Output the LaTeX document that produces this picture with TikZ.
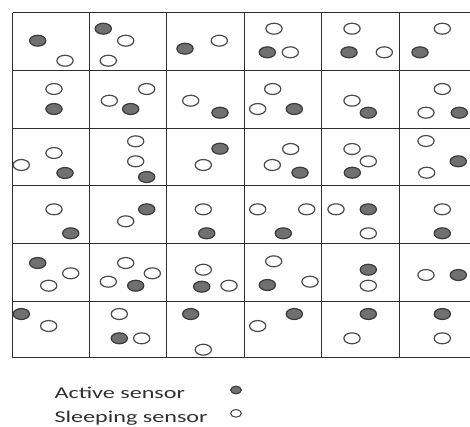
\documentclass[tikz,border=0pt]{standalone}
\usepackage{fontspec}
\setmainfont{Carlito}
\usetikzlibrary{shapes.geometric}
\definecolor{gridc}{HTML}{2E2E2E}
\definecolor{actfill}{HTML}{707070}
\definecolor{actline}{HTML}{3A3A3A}
\definecolor{slpline}{HTML}{4A4A4A}
\definecolor{txtc}{HTML}{303030}
\tikzset{
  gridline/.style={draw=gridc, line width=1.1pt},
  sensor/.style={ellipse, minimum width=12.2pt, minimum height=8.2pt, inner sep=0pt, line width=0.9pt},
  act/.style={sensor, draw=actline, fill=actfill},
  slp/.style={sensor, draw=slpline, fill=white},
  legsensor/.style={ellipse, minimum width=8pt, minimum height=5.8pt, inner sep=0pt, line width=0.8pt},
  legact/.style={legsensor, draw=actline, fill=actfill},
  legslp/.style={legsensor, draw=slpline, fill=white},
  legtext/.style={anchor=base west, inner sep=0pt, text=txtc, font=\fontsize{12.4}{14}\selectfont}
}
\begin{document}
\begin{tikzpicture}[x=0.75pt,y=-0.75pt]
\useasboundingbox (0,0) rectangle (470,426);
% grid
\foreach \yy in {12.7,70.7,128.3,185.3,243.3,301.3,357.7}
  \draw[gridline] (12.5,\yy) -- (470,\yy);
\foreach \xx in {12.5,89.5,166.7,244.3,321.7,399.3}
  \draw[gridline] (\xx,12.7) -- (\xx,357.7);
% row 1
\node[act] (a11) at (37.7,40.7) {};
\node[slp] (s11) at (65,60.7) {};
\node[act] (a12) at (103.3,28.7) {};
\node[slp] (s12a) at (125.7,40.7) {};
\node[slp] (s12b) at (108.3,60.7) {};
\node[act] (a13) at (185,48.7) {};
\node[slp] (s13) at (219.3,40.7) {};
\node[slp] (s14a) at (274,28.7) {};
\node[act] (a14) at (267.3,52.3) {};
\node[slp] (s14b) at (290.3,52.3) {};
\node[slp] (s15a) at (352,28.7) {};
\node[act] (a15) at (349,52.3) {};
\node[slp] (s15b) at (384.3,52.3) {};
\node[slp] (s16) at (442.3,28.7) {};
\node[act] (a16) at (420,52.3) {};
% row 2
\node[slp] (s21) at (54,89) {};
\node[act] (a21) at (54,109) {};
\node[slp] (s22a) at (146.7,89) {};
\node[slp] (s22b) at (109.3,100.7) {};
\node[act] (a22) at (130.7,109) {};
\node[slp] (s23) at (190.7,100.7) {};
\node[act] (a23) at (220,112.7) {};
\node[slp] (s24a) at (272.7,89) {};
\node[slp] (s24b) at (257.7,109) {};
\node[act] (a24) at (294.3,109) {};
\node[slp] (s25) at (352,100.7) {};
\node[act] (a25) at (368.3,112.7) {};
\node[slp] (s26a) at (442.3,89) {};
\node[slp] (s26b) at (426,112.7) {};
\node[act] (a26) at (459.3,112.7) {};
% row 3
\node[slp] (s31a) at (54,153) {};
\node[slp] (s31b) at (21.3,165) {};
\node[act] (a31) at (65,173) {};
\node[slp] (s32a) at (135.7,141.3) {};
\node[slp] (s32b) at (135.7,161.3) {};
\node[act] (a32) at (146.7,177) {};
\node[act] (a33) at (220,148.7) {};
\node[slp] (s33) at (203.3,165) {};
\node[slp] (s34a) at (290.7,149) {};
\node[slp] (s34b) at (272.3,165) {};
\node[act] (a34) at (300,172.7) {};
\node[slp] (s35a) at (352,149) {};
\node[slp] (s35b) at (368.3,161.3) {};
\node[act] (a35) at (352.3,172.7) {};
\node[slp] (s36a) at (426,141) {};
\node[act] (a36) at (458.3,161.3) {};
\node[slp] (s36b) at (426.7,172.7) {};
% row 4
\node[slp] (s41) at (54,209.3) {};
\node[act] (a41) at (70.7,233.3) {};
\node[act] (a42) at (146.7,209.3) {};
\node[slp] (s42) at (125.7,221.3) {};
\node[slp] (s43) at (203.3,209.3) {};
\node[act] (a43) at (206.7,233.3) {};
\node[slp] (s44a) at (257.7,209.3) {};
\node[slp] (s44b) at (306.7,209.3) {};
\node[act] (a44) at (283.3,233.3) {};
\node[slp] (s45a) at (336,209.3) {};
\node[act] (a45) at (368.3,209.3) {};
\node[slp] (s45b) at (368.3,233.3) {};
\node[slp] (s46) at (442.3,209.3) {};
\node[act] (a46) at (442.3,233.3) {};
% row 5
\node[act] (a51) at (37.7,263) {};
\node[slp] (s51a) at (70.7,273.3) {};
\node[slp] (s51b) at (48.7,285.7) {};
\node[slp] (s52a) at (125.7,263) {};
\node[slp] (s52b) at (152.3,273.3) {};
\node[slp] (s52c) at (108.3,281.7) {};
\node[act] (a52) at (135.7,285.7) {};
\node[slp] (s53a) at (203.3,269.7) {};
\node[act] (a53) at (201.7,286.7) {};
\node[slp] (s53b) at (229,285.7) {};
\node[slp] (s54a) at (273.7,261.3) {};
\node[act] (a54) at (267.3,285) {};
\node[slp] (s54b) at (310,281.7) {};
\node[act] (a55) at (368.3,269.7) {};
\node[slp] (s55) at (368.3,285.7) {};
\node[slp] (s56) at (426,275) {};
\node[act] (a56) at (458.3,275) {};
% row 6
\node[act] (a61) at (21.3,314) {};
\node[slp] (s61) at (48.7,326) {};
\node[slp] (s62a) at (119.3,314) {};
\node[act] (a62) at (119.3,338.3) {};
\node[slp] (s62b) at (141.7,338.3) {};
\node[act] (a63) at (190.7,314) {};
\node[slp] (s63) at (203.3,349.7) {};
\node[act] (a64) at (294.3,314) {};
\node[slp] (s64) at (257.7,326) {};
\node[act] (a65) at (368.3,314) {};
\node[slp] (s65) at (352,338.3) {};
\node[act] (a66) at (442.3,314) {};
\node[slp] (s66) at (442.3,338.3) {};
% legend
\node[legtext] (tact) at (54.3,398.3) {\scalebox{1.46}[1]{Active sensor}};
\node[legtext] (tslp) at (54.3,422.3) {\scalebox{1.46}[1]{Sleeping sensor}};
\node[legact] (lact) at (236,390) {};
\node[legslp] (lslp) at (236,413.3) {};
\end{tikzpicture}
\end{document}
